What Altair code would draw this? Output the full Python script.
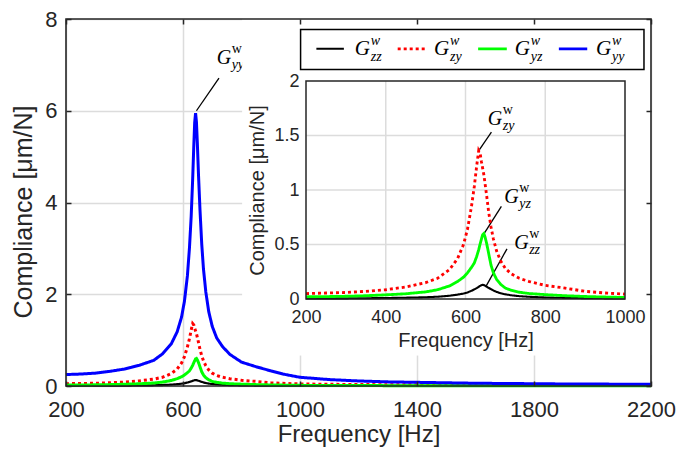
import altair as alt
import pandas as pd

# ---------------- data ----------------
freq = [200, 250, 300, 350, 400, 450, 500,
        530, 560, 580, 595, 605, 615, 622, 628, 633, 637,
        640, 643, 646, 649, 653, 658, 664, 670, 678, 688,
        700, 715, 735, 760, 800, 850, 900, 950, 1000,
        1100, 1200, 1300, 1400, 1500, 1600, 1700, 1800, 1900, 2000, 2100, 2200]

g_yy = [0.25, 0.26, 0.28, 0.32, 0.37, 0.45, 0.56,
        0.70, 0.92, 1.18, 1.50, 1.85, 2.40, 3.00, 3.70, 4.50, 5.25,
        5.75, 5.95, 5.75, 5.30, 4.60, 3.85, 3.10, 2.55, 2.05, 1.62,
        1.30, 1.05, 0.86, 0.69, 0.52, 0.42, 0.33, 0.25, 0.19,
        0.14, 0.11, 0.09, 0.08, 0.07, 0.06, 0.055, 0.05, 0.045, 0.042, 0.04, 0.038]

g_zy = [0.05, 0.055, 0.06, 0.07, 0.085, 0.11, 0.15,
        0.19, 0.27, 0.37, 0.50, 0.64, 0.85, 1.03, 1.22, 1.36, 1.33,
        1.26, 1.20, 1.14, 1.06, 0.95, 0.80, 0.66, 0.55, 0.44, 0.35,
        0.28, 0.23, 0.19, 0.16, 0.125, 0.10, 0.07, 0.055, 0.045,
        0.037, 0.032, 0.028, 0.025, 0.023, 0.021, 0.02, 0.019, 0.018, 0.017, 0.016, 0.015]

g_yz = [0.02, 0.022, 0.025, 0.03, 0.038, 0.048, 0.065,
        0.085, 0.12, 0.16, 0.20, 0.24, 0.29, 0.33, 0.39, 0.45, 0.51,
        0.55, 0.59, 0.60, 0.57, 0.51, 0.42, 0.31, 0.24, 0.18, 0.135,
        0.10, 0.08, 0.062, 0.05, 0.04, 0.03, 0.023, 0.018, 0.014,
        0.011, 0.009, 0.008, 0.007, 0.006, 0.006, 0.005, 0.005, 0.005, 0.004, 0.004, 0.004]

g_zz = [0.004, 0.005, 0.006, 0.007, 0.009, 0.012, 0.016,
        0.021, 0.03, 0.04, 0.05, 0.06, 0.075, 0.088, 0.10, 0.112, 0.121,
        0.127, 0.13, 0.128, 0.122, 0.113, 0.102, 0.09, 0.078, 0.065, 0.053,
        0.043, 0.034, 0.026, 0.02, 0.014, 0.01, 0.008, 0.006, 0.005,
        0.004, 0.004, 0.003, 0.003, 0.003, 0.002, 0.002, 0.002, 0.002, 0.002, 0.002, 0.002]

series_keys = ["zz", "zy", "yz", "yy"]
series_values = [g_zz, g_zy, g_yz, g_yy]
series_colors = ["#000000", "#FF0000", "#00FF00", "#0000FF"]
series_dash = [[1, 0], [3, 3], [1, 0], [1, 0]]
series_width = [2.2, 3, 3, 3]
inset_series = ["zz", "zy", "yz"]

x_ticks_main = [200, 600, 1000, 1400, 1800, 2200]
y_ticks_main = [0, 2, 4, 6, 8]
x_ticks_inset = [200, 400, 600, 800, 1000]
y_ticks_inset = [0, 0.5, 1, 1.5, 2]
x_grid_inset = [400, 600, 800]
y_grid_inset = [0.5, 1, 1.5]

# legend entries (in main-plot data units)
legend_seg_x1 = [1056, 1334, 1609, 1885]
legend_seg_x2 = [1150, 1428, 1707, 1982]
legend_seg_y = 7.35
legend_text_x = [1187, 1458, 1734, 2012]
legend_text_y = 7.21
legend_box = [1002, 2176, 6.90, 7.77]
inset_box = [804, 2200, 0.675, 8.0]

# annotations
ann_main = dict(x=[646, 723], y=[6.0, 6.71], tx=715, ty=7.01, sub="yy")
ann_inset_lines = [([635, 665], [1.37, 1.53]), ([645, 690], [0.59, 0.85]), ([652, 704], [0.12, 0.46])]
ann_inset_text_x = [656, 697, 722]
ann_inset_text_y = [1.60, 0.88, 0.46]
ann_inset_sub = ["zy", "yz", "zz"]

# ---------------- layout ----------------
W, H = 585, 367
SANS = "Liberation Sans"
SERIF = "Liberation Serif"
AX = "#262626"
GRID = "#DCDCDC"

# inset placement, in pixels inside the main plot area
INSET_X0, INSET_X1 = 240, 559
INSET_Y0, INSET_Y1 = 280, 62

main_x = alt.Scale(domain=[200, 2200], nice=False, zero=False)
main_y = alt.Scale(domain=[0, 8], nice=False, zero=False)
inset_x = alt.Scale(domain=[200, 1000], nice=False, zero=False, range=[INSET_X0, INSET_X1])
inset_y = alt.Scale(domain=[0, 2], nice=False, zero=False, range=[INSET_Y0, INSET_Y1])

rows = []
for key, vals in zip(series_keys, series_values):
    for f, v in zip(freq, vals):
        rows.append({"freq": f, "value": v, "series": key})
curves = pd.DataFrame(rows)
curves_inset = curves[curves["freq"] <= 1000]


def X(field, scale, axis=None):
    return alt.X(field, type="quantitative", scale=scale, axis=axis)


def Y(field, scale, axis=None):
    return alt.Y(field, type="quantitative", scale=scale, axis=axis)


def line_layers(df, xs, ys, keys, scale_w=1.0):
    out = []
    for key, col, dash, w in zip(series_keys, series_colors, series_dash, series_width):
        if key not in keys:
            continue
        sub = df[df["series"] == key]
        out.append(
            alt.Chart(sub).mark_line(color=col, strokeDash=dash, strokeWidth=w * scale_w, strokeCap="butt")
            .encode(x=X("freq", xs), y=Y("value", ys), order="freq:Q")
        )
    return out


def math_text(xs_vals, ys_vals, subs, xs, ys, size, sub_size, dx, sub_dy, sup_dy, sup_style):
    df = pd.DataFrame({"x": xs_vals, "y": ys_vals, "g": ["G"] * len(xs_vals),
                       "sub": subs, "sup": ["w"] * len(xs_vals)})
    base = alt.Chart(df)
    enc = dict(x=X("x", xs), y=Y("y", ys))
    return [
        base.mark_text(align="left", baseline="alphabetic", font=SERIF, fontStyle="italic",
                       fontSize=size, color="black").encode(text="g:N", **enc),
        base.mark_text(align="left", baseline="alphabetic", font=SERIF, fontStyle="italic",
                       fontSize=sub_size, color="black", dx=dx, dy=sub_dy).encode(text="sub:N", **enc),
        base.mark_text(align="left", baseline="alphabetic", font=SERIF, fontStyle=sup_style,
                       fontSize=sub_size, color="black", dx=dx, dy=sup_dy).encode(text="sup:N", **enc),
    ]


# ---------------- axes ----------------
main_xaxis = alt.Axis(values=x_ticks_main, format="d", title="Frequency [Hz]", orient="bottom",
                      ticks=False, domain=False, grid=True, gridColor=GRID, gridWidth=1.5,
                      labelFont=SANS, labelFontSize=22, labelColor=AX, labelPadding=13,
                      labelFlush=False, labelOverlap=False,
                      titleFont=SANS, titleFontSize=24, titleFontWeight="normal", titleColor=AX,
                      titlePadding=2)
main_yaxis = alt.Axis(values=y_ticks_main, format="d", title="Compliance [μm/N]", orient="left",
                      ticks=False, domain=False, grid=True, gridColor=GRID, gridWidth=1.5,
                      labelFont=SANS, labelFontSize=22, labelColor=AX, labelPadding=9,
                      labelFlush=False, labelOverlap=False,
                      titleFont=SANS, titleFontSize=25, titleFontWeight="normal", titleColor=AX,
                      titlePadding=8, titleY=H / 2 + 9)
inset_xaxis = alt.Axis(values=x_ticks_inset, format="d", title="Frequency [Hz]", orient="bottom",
                       offset=INSET_Y0 - H, ticks=False, domain=False, grid=False,
                       labelFont=SANS, labelFontSize=18, labelColor=AX, labelPadding=9,
                       labelFlush=False, labelOverlap=False,
                       titleFont=SANS, titleFontSize=20, titleFontWeight="normal", titleColor=AX,
                       titlePadding=4, zindex=1)
inset_yaxis = alt.Axis(values=y_ticks_inset, format="~g", title="Compliance [μm/N]", orient="left",
                       offset=-INSET_X0, ticks=False, domain=False, grid=False,
                       labelFont=SANS, labelFontSize=18, labelColor=AX, labelPadding=7,
                       labelFlush=False, labelOverlap=False,
                       titleFont=SANS, titleFontSize=20, titleFontWeight="normal", titleColor=AX,
                       titlePadding=6, zindex=1)

frame_df = pd.DataFrame({"x": [200], "x2": [2200], "y": [0], "y2": [8]})
inset_df = pd.DataFrame({"x": [200], "x2": [1000], "y": [0], "y2": [2]})

main_axes = alt.Chart(frame_df).mark_rect(fill="white", fillOpacity=0, strokeOpacity=0).encode(
    x=X("x", main_x, main_xaxis), x2="x2", y=Y("y", main_y, main_yaxis), y2="y2")

# ---------------- main plot ----------------
main_lines = line_layers(curves, main_x, main_y, series_keys)

ann_main_line = alt.Chart(pd.DataFrame({"x": ann_main["x"], "y": ann_main["y"]})).mark_line(
    color="black", strokeWidth=1.3).encode(x=X("x", main_x), y=Y("y", main_y))
ann_main_text = math_text([ann_main["tx"]], [ann_main["ty"]], [ann_main["sub"]], main_x, main_y,
                          20, 14, 15, 5, -11, "normal")

bg = alt.Chart(pd.DataFrame({"x": [inset_box[0]], "x2": [inset_box[1]],
                             "y": [inset_box[2]], "y2": [inset_box[3]]})).mark_rect(
    fill="white", stroke="white").encode(x=X("x", main_x), x2="x2", y=Y("y", main_y), y2="y2")

leg_box = alt.Chart(pd.DataFrame({"x": [legend_box[0]], "x2": [legend_box[1]],
                                  "y": [legend_box[2]], "y2": [legend_box[3]]})).mark_rect(
    fill="white", stroke="black", strokeWidth=1.5).encode(x=X("x", main_x), x2="x2", y=Y("y", main_y), y2="y2")

leg_lines = []
for i in range(4):
    d = pd.DataFrame({"x": [legend_seg_x1[i], legend_seg_x2[i]], "y": [legend_seg_y, legend_seg_y]})
    leg_lines.append(alt.Chart(d).mark_line(color=series_colors[i], strokeDash=series_dash[i],
                                            strokeWidth=series_width[i] * 0.9, strokeCap="butt")
                     .encode(x=X("x", main_x), y=Y("y", main_y)))
leg_text = math_text(legend_text_x, [legend_text_y] * 4, series_keys, main_x, main_y,
                     21, 14, 16, 6, -10, "italic")

# ---------------- inset ----------------
vgrid = alt.Chart(pd.DataFrame({"x": x_grid_inset, "y": [0] * 3, "y2": [2] * 3})).mark_rule(
    color=GRID, strokeWidth=1.5).encode(x=X("x", inset_x), y=Y("y", inset_y), y2="y2")
hgrid = alt.Chart(pd.DataFrame({"y": y_grid_inset, "x": [200] * 3, "x2": [1000] * 3})).mark_rule(
    color=GRID, strokeWidth=1.5).encode(y=Y("y", inset_y), x=X("x", inset_x), x2="x2")

inset_ann_lines = []
for xs_, ys_ in ann_inset_lines:
    inset_ann_lines.append(alt.Chart(pd.DataFrame({"x": xs_, "y": ys_})).mark_line(
        color="black", strokeWidth=1.3).encode(x=X("x", inset_x), y=Y("y", inset_y)))

inset_lines = line_layers(curves_inset, inset_x, inset_y, inset_series, scale_w=0.95)

inset_frame = alt.Chart(inset_df).mark_rect(
    fill="white", fillOpacity=0, stroke=AX, strokeWidth=1.5).encode(
    x=X("x", inset_x, inset_xaxis), x2="x2", y=Y("y", inset_y, inset_yaxis), y2="y2")

inset_text = math_text(ann_inset_text_x, ann_inset_text_y, ann_inset_sub, inset_x, inset_y,
                       20, 14, 15, 5, -11, "normal")

# ---------------- frame with inward ticks ----------------
tick_style = dict(labels=False, domain=False, grid=False, ticks=True, tickSize=5,
                  tickColor=AX, tickWidth=1.5, title=None, zindex=2)
frame_a = alt.Chart(frame_df).mark_rect(fill="white", fillOpacity=0, stroke=AX, strokeWidth=1.6).encode(
    x=X("x", main_x, alt.Axis(orient="bottom", offset=-H, values=x_ticks_main, **tick_style)),
    x2="x2",
    y=Y("y", main_y, alt.Axis(orient="left", offset=-W, values=y_ticks_main, **tick_style)),
    y2="y2")
frame_b = alt.Chart(frame_df).mark_rect(fill="white", fillOpacity=0, strokeOpacity=0).encode(
    x=X("x", main_x, alt.Axis(orient="top", offset=-H, values=x_ticks_main, **tick_style)),
    x2="x2",
    y=Y("y", main_y, alt.Axis(orient="right", offset=-W, values=y_ticks_main, **tick_style)),
    y2="y2")

layers = ([main_axes] + main_lines + [ann_main_line] + ann_main_text + [bg, leg_box] + leg_lines + leg_text
          + [vgrid, hgrid] + inset_ann_lines + inset_lines + [inset_frame] + inset_text
          + [frame_a, frame_b])

chart = alt.layer(*layers).resolve_scale(
    x="independent", y="independent"
).properties(
    width=W, height=H,
    padding={"left": 58, "top": 11, "right": 26, "bottom": 64},
    autosize=alt.AutoSizeParams(type="none"),
    background="white",
).configure_view(stroke=None)

chart.save("out.html", embed_options={"renderer": "svg", "actions": False})
